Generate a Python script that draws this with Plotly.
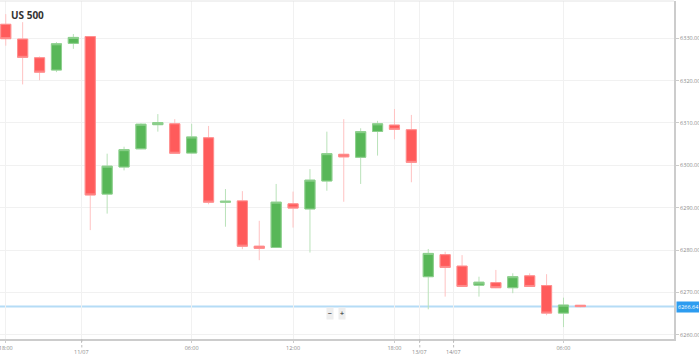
import plotly.graph_objects as go

title = "US 500"
candle_idx = list(range(35))
opens = [6333.3, 6329.8, 6325.4, 6322.5, 6328.8, 6330.4, 6293.2, 6299.6, 6303.9, 6309.6,
         6309.8, 6302.9, 6306.5, 6291.3, 6291.6, 6280.9, 6280.6, 6290.9, 6289.7, 6296.3,
         6302.6, 6301.9, 6308.0, 6309.5, 6308.4, 6273.7, 6278.9, 6276.2, 6271.7, 6272.3,
         6271.1, 6273.9, 6271.6, 6265.1, 6266.95]
highs = [6335.7, 6333.8, 6325.7, 6329.1, 6331.0, 6330.5, 6302.75, 6304.4, 6309.9, 6312.1,
         6310.9, 6309.8, 6309.3, 6294.4, 6293.9, 6286.9, 6295.6, 6293.8, 6299.1, 6307.95,
         6310.9, 6308.75, 6310.5, 6313.3, 6311.9, 6280.25, 6279.6, 6278.8, 6273.7, 6275.3,
         6274.5, 6274.5, 6274.3, 6268.75, 6267.0]
lows = [6328.25, 6319.1, 6320.1, 6322.0, 6327.5, 6284.7, 6288.6, 6298.8, 6303.8, 6307.95,
        6302.8, 6302.8, 6290.8, 6285.5, 6280.2, 6277.6, 6280.5, 6285.3, 6279.4, 6294.0,
        6291.4, 6295.6, 6302.3, 6306.15, 6296.0, 6266.0, 6269.0, 6271.4, 6269.0, 6271.0,
        6269.8, 6271.4, 6264.6, 6261.8, 6266.5]
closes = [6329.9, 6325.5, 6322.0, 6328.7, 6330.2, 6293.0, 6299.8, 6303.7, 6309.7, 6310.1,
          6302.85, 6306.7, 6291.3, 6291.5, 6280.9, 6280.4, 6291.3, 6289.9, 6296.5, 6302.75,
          6302.0, 6307.95, 6309.8, 6308.5, 6300.7, 6279.2, 6275.9, 6271.4, 6272.4, 6271.1,
          6273.7, 6271.4, 6265.1, 6267.0, 6266.64]

time_tick_pos = [0, 11, 17, 23, 33]
time_tick_text = ["18:00", "06:00", "12:00", "18:00", "06:00"]
date_tick_pos = [4.5, 24.5, 26.5]
date_tick_text = ["11/07", "13/07", "14/07"]
y_ticks = [6260, 6270, 6280, 6290, 6300, 6310, 6320, 6330]
last_price = closes[-1]

RED = "#ff5b5b"
GREEN = "#58b758"
RED_WICK = "#ffc2c2"
GREEN_WICK = "#b9e2b9"

body_hi = [max(o, c) for o, c in zip(opens, closes)]
body_lo = [min(o, c) for o, c in zip(opens, closes)]

fig = go.Figure()
# wicks
fig.add_trace(go.Candlestick(
    x=candle_idx, open=opens, high=highs, low=lows, close=closes,
    increasing=dict(line=dict(color=GREEN_WICK, width=1), fillcolor=GREEN_WICK),
    decreasing=dict(line=dict(color=RED_WICK, width=1), fillcolor=RED_WICK),
    showlegend=False, hoverinfo="skip"))
# bodies
fig.add_trace(go.Candlestick(
    x=candle_idx, open=opens, high=body_hi, low=body_lo, close=closes,
    increasing=dict(line=dict(color="#8fd08f", width=1), fillcolor=GREEN),
    decreasing=dict(line=dict(color="#ff8f8f", width=1), fillcolor=RED),
    showlegend=False))

shapes = []
# top border
shapes.append(dict(type="line", xref="paper", yref="paper", x0=0, x1=1, y0=1, y1=1,
                   line=dict(color="#e4e4e4", width=1)))
# date tick dotted lines
for p in date_tick_pos:
    shapes.append(dict(type="line", xref="x", yref="paper", x0=p, x1=p, y0=0, y1=-0.025,
                       line=dict(color="#bbbbbb", width=1, dash="dot")))
# current price line
shapes.append(dict(type="line", xref="paper", yref="y", x0=0, x1=1, y0=last_price, y1=last_price,
                   line=dict(color="#b5dcf6", width=2), layer="below"))

annotations = [
    dict(text="<b>" + title + "</b>", xref="paper", yref="paper", x=0.014, y=0.985,
         xanchor="left", yanchor="top", showarrow=False,
         font=dict(size=10, color="#333333", family="Open Sans")),
    dict(text=f"{last_price:.2f}", xref="paper", yref="y", x=1.003, y=last_price,
         xanchor="left", yanchor="middle", showarrow=False, bgcolor="#2d9cf0",
         borderpad=1, font=dict(size=5.5, color="white", family="Open Sans")),
    dict(text="<b>−</b>", xref="paper", yref="paper", x=0.490, y=0.055, showarrow=False,
         bgcolor="#eeeeee", borderpad=1, font=dict(size=7, color="#555555")),
    dict(text="<b>+</b>", xref="paper", yref="paper", x=0.508, y=0.055, showarrow=False,
         bgcolor="#eeeeee", borderpad=1, font=dict(size=7, color="#555555")),
]
for p, t in zip(date_tick_pos, date_tick_text):
    annotations.append(dict(text=t, xref="x", yref="paper", x=p, y=-0.038,
                            xanchor="center", yanchor="middle", showarrow=False,
                            font=dict(size=5.5, color="#8a8a8a", family="Open Sans")))

fig.update_layout(
    width=699, height=357,
    margin=dict(l=0, r=25, t=1, b=18, autoexpand=False),
    paper_bgcolor="white", plot_bgcolor="white",
    boxgap=0.4, boxgroupgap=0,
    font=dict(family="Open Sans", size=6, color="#8a8a8a"),
    shapes=shapes, annotations=annotations,
    hovermode=False,
    xaxis=dict(range=[-0.34, 39.54], tickmode="array",
               tickvals=time_tick_pos + date_tick_pos,
               ticktext=time_tick_text + [""] * len(date_tick_pos),
               automargin=False,
               showgrid=True, gridcolor="#f1f1f1", gridwidth=1, zeroline=False,
               showline=True, linecolor="#cccccc", linewidth=2,
               ticks="outside", ticklen=2, tickcolor="#cccccc",
               tickfont=dict(size=5.5, color="#8a8a8a"), ticklabeloverflow="allow",
               rangeslider=dict(visible=False), fixedrange=True),
    yaxis=dict(range=[6258.99, 6338.8], side="right", tickmode="array", tickvals=y_ticks,
               automargin=False,
               tickformat=".2f", showgrid=True, gridcolor="#f1f1f1", gridwidth=1,
               zeroline=False, showline=True, linecolor="#cccccc", linewidth=2,
               ticks="outside", ticklen=3, tickcolor="#cccccc", ticklabeloverflow="allow",
               tickfont=dict(size=5.5, color="#8a8a8a"), fixedrange=True),
)

fig.write_html("out.html", config={"displayModeBar": False},
               post_script="document.body.style.margin='0';document.body.style.padding='0';document.body.style.overflow='hidden';")
